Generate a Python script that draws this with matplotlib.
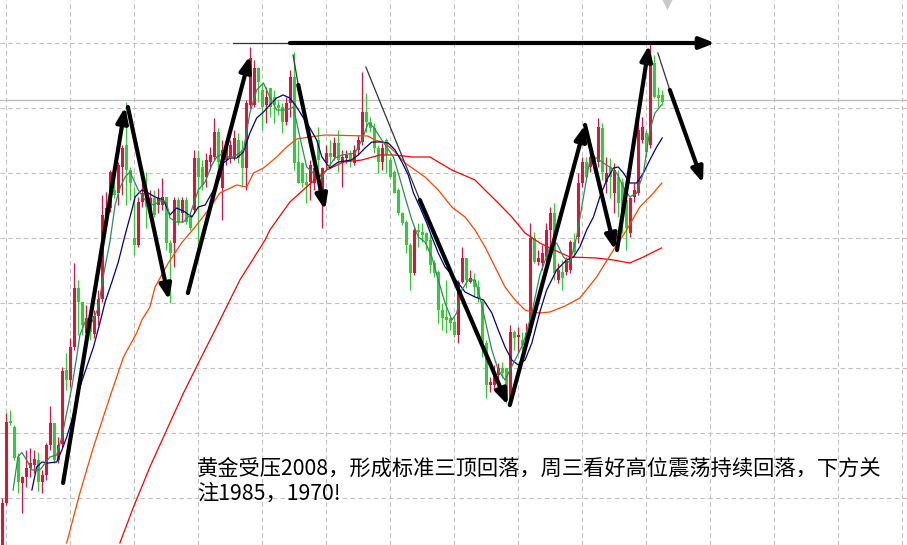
import matplotlib.pyplot as plt

# 5分钟K线 (开, 高, 低, 收)
opens = [1911.0, 1919.4, 1935.8, 1934.6, 1928.6, 1923.4, 1924.6, 1926.4, 1927.0, 1928.0,
         1923.6, 1925.0, 1931.0, 1935.4, 1928.0, 1931.2, 1946.0, 1944.0, 1950.6, 1962.4,
         1959.6, 1953.4, 1956.4, 1953.2, 1956.8, 1960.2, 1976.4, 1978.4, 1982.0, 1981.4,
         1986.6, 1991.0, 1986.0, 1972.4, 1971.0, 1979.6, 1980.0, 1977.4, 1980.4, 1979.0,
         1979.0, 1980.6, 1971.4, 1971.4, 1980.0, 1977.4, 1980.0, 1977.0, 1978.0, 1988.4,
         1986.6, 1984.6, 1987.6, 1988.6, 1993.6, 1982.4, 1988.0, 1988.4, 1988.6, 1992.0,
         1990.0, 1986.4, 1999.0, 1999.0, 2006.4, 2002.0, 1999.0, 2002.4, 2000.6, 1999.0,
         1998.6, 1995.6, 1999.4, 2004.6, 1987.6, 1987.4, 1983.6, 1983.6, 1983.4, 1992.0,
         1982.0, 1987.4, 1989.4, 1988.6, 1991.4, 1987.4, 1988.4, 1989.4, 1987.4, 1990.0,
         1991.6, 1997.6, 1995.6, 1994.4, 1990.4, 1987.6, 1992.0, 1988.0, 1985.6, 1982.0,
         1977.4, 1975.6, 1971.0, 1965.4, 1974.0, 1973.6, 1973.4, 1972.0, 1967.4, 1965.6,
         1958.0, 1956.6, 1956.4, 1955.6, 1953.0, 1963.6, 1968.4, 1963.6, 1964.0, 1962.6,
         1959.6, 1951.4, 1943.0, 1943.0, 1945.0, 1946.4, 1946.4, 1940.0, 1953.6, 1952.6,
         1952.0, 1951.6, 1953.4, 1972.4, 1967.6, 1967.4, 1968.6, 1974.0, 1977.4, 1964.0,
         1965.6, 1965.6, 1966.0, 1971.6, 1972.6, 1983.4, 1987.6, 1986.6, 1988.6, 1987.6,
         1994.4, 1983.6, 1986.6, 1981.4, 1984.6, 1983.6, 1980.0, 1973.4, 1980.6, 1981.4,
         1992.0, 1993.4, 1991.0, 2007.4, 2001.0, 2001.0]
highs = [1920.4, 1937.4, 1938.0, 1935.0, 1929.4, 1924.8, 1930.0, 1930.4, 1930.0, 1929.6,
         1926.0, 1931.4, 1938.8, 1935.4, 1932.6, 1946.6, 1949.4, 1952.4, 1967.4, 1964.0,
         1959.6, 1959.0, 1958.0, 1958.0, 1962.0, 1981.0, 1981.6, 1986.0, 1984.4, 1987.6,
         1991.0, 1999.6, 1986.6, 1982.6, 1980.6, 1985.4, 1985.6, 1982.0, 1982.0, 1982.4,
         1984.4, 1980.6, 1972.0, 1980.6, 1980.6, 1980.6, 1980.6, 1977.4, 1990.0, 1990.0,
         1988.0, 1989.4, 1990.6, 1996.4, 1994.4, 1992.0, 1992.0, 1992.0, 1994.0, 1993.4,
         1992.0, 2000.0, 2010.6, 2008.0, 2006.6, 2003.4, 2002.6, 2002.4, 2002.0, 2000.0,
         1999.4, 2000.6, 2006.0, 2009.6, 1992.0, 1987.6, 1985.4, 1988.0, 1987.6, 1994.6,
         1986.6, 1991.0, 1992.0, 1992.6, 1994.0, 1990.0, 1990.0, 1990.0, 1991.0, 1993.0,
         2005.6, 2001.4, 1996.6, 1995.4, 1991.0, 1991.4, 1992.4, 1988.6, 1986.0, 1982.4,
         1977.6, 1976.0, 1971.4, 1974.4, 1975.4, 1975.4, 1973.6, 1973.0, 1968.0, 1966.0,
         1959.4, 1964.0, 1956.6, 1956.6, 1964.0, 1970.6, 1968.4, 1966.0, 1965.4, 1964.0,
         1960.0, 1952.0, 1944.6, 1947.0, 1947.4, 1947.6, 1946.4, 1955.0, 1954.0, 1954.6,
         1953.6, 1955.4, 1975.4, 1973.6, 1970.0, 1971.0, 1975.4, 1978.6, 1979.4, 1967.4,
         1968.0, 1968.6, 1972.0, 1973.4, 1985.4, 1988.6, 1988.6, 1990.4, 1989.0, 1996.4,
         1995.4, 1988.6, 1988.4, 1987.4, 1986.0, 1984.4, 1981.4, 1980.6, 1983.4, 1996.6,
         1996.6, 1994.0, 2011.4, 2009.0, 2002.6, 2002.0]
lows = [1910.4, 1919.0, 1935.0, 1928.0, 1921.4, 1917.4, 1922.6, 1924.6, 1925.4, 1921.8,
        1921.4, 1924.0, 1930.0, 1927.4, 1927.4, 1930.6, 1942.0, 1942.6, 1950.0, 1953.0,
        1953.0, 1953.0, 1952.0, 1952.4, 1955.0, 1959.6, 1975.6, 1977.6, 1980.4, 1979.0,
        1981.0, 1979.0, 1980.0, 1969.0, 1970.6, 1978.6, 1974.4, 1976.4, 1976.6, 1977.4,
        1978.0, 1970.0, 1959.4, 1966.6, 1975.0, 1975.6, 1975.2, 1974.0, 1977.4, 1968.0,
        1982.0, 1982.6, 1986.0, 1988.0, 1986.6, 1976.0, 1987.0, 1987.4, 1988.0, 1987.4,
        1982.6, 1982.0, 1998.4, 1998.6, 1999.6, 1994.0, 1995.4, 1996.6, 1995.4, 1997.0,
        1993.4, 1995.0, 1996.6, 1986.0, 1983.4, 1982.6, 1979.4, 1980.0, 1982.0, 1981.4,
        1974.4, 1986.0, 1986.6, 1988.0, 1985.6, 1982.6, 1987.4, 1986.6, 1987.0, 1989.0,
        1991.0, 1993.6, 1993.6, 1989.4, 1985.4, 1986.0, 1985.4, 1984.4, 1981.4, 1977.0,
        1975.0, 1969.4, 1962.0, 1965.0, 1970.6, 1971.6, 1970.0, 1965.4, 1964.6, 1955.4,
        1954.0, 1953.4, 1954.0, 1952.6, 1951.4, 1963.4, 1962.4, 1963.4, 1960.6, 1959.6,
        1948.6, 1940.4, 1941.6, 1942.0, 1941.6, 1944.4, 1939.4, 1939.0, 1950.0, 1949.4,
        1949.6, 1951.4, 1953.0, 1967.4, 1967.0, 1966.0, 1967.4, 1970.6, 1964.0, 1963.4,
        1962.0, 1965.0, 1965.4, 1968.6, 1971.4, 1982.6, 1984.4, 1985.6, 1985.6, 1986.6,
        1984.0, 1981.4, 1980.4, 1977.4, 1976.6, 1973.4, 1970.0, 1972.6, 1979.6, 1981.0,
        1991.4, 1988.6, 1990.4, 2000.4, 1998.6, 1999.0]
closes = [1919.4, 1935.6, 1935.4, 1928.4, 1923.6, 1924.6, 1926.4, 1927.4, 1928.2, 1923.6,
          1925.0, 1931.0, 1935.4, 1928.0, 1931.0, 1945.8, 1944.0, 1950.6, 1962.4, 1959.6,
          1955.0, 1956.4, 1953.6, 1956.8, 1960.2, 1977.0, 1978.4, 1985.6, 1981.0, 1987.0,
          1990.4, 1986.0, 1983.4, 1971.0, 1979.6, 1981.4, 1978.6, 1980.4, 1977.0, 1980.4,
          1980.6, 1971.4, 1969.4, 1980.0, 1975.6, 1980.0, 1975.6, 1974.4, 1988.4, 1984.6,
          1983.0, 1988.0, 1989.0, 1993.6, 1987.6, 1990.0, 1991.0, 1991.0, 1992.4, 1988.4,
          1986.4, 1999.4, 2008.4, 2006.4, 2003.6, 1998.6, 2000.6, 1998.6, 1999.0, 1998.4,
          1995.6, 1999.4, 2004.6, 1987.4, 1983.4, 1983.4, 1983.0, 1987.0, 1986.4, 1988.0,
          1986.4, 1989.4, 1988.6, 1991.4, 1988.0, 1988.6, 1989.0, 1988.0, 1990.0, 1992.0,
          1997.6, 1995.6, 1994.4, 1990.4, 1987.6, 1990.4, 1989.0, 1984.6, 1981.4, 1977.4,
          1975.4, 1971.0, 1965.4, 1974.0, 1973.6, 1973.0, 1971.8, 1967.0, 1965.4, 1958.0,
          1956.4, 1956.0, 1955.4, 1953.0, 1963.6, 1968.4, 1964.0, 1964.4, 1962.6, 1960.4,
          1951.4, 1943.0, 1943.6, 1945.6, 1946.4, 1945.4, 1940.0, 1953.6, 1952.4, 1953.0,
          1951.0, 1953.4, 1972.4, 1967.6, 1968.4, 1969.4, 1974.0, 1977.4, 1965.4, 1966.0,
          1964.4, 1968.0, 1971.6, 1969.6, 1983.4, 1987.6, 1984.6, 1988.6, 1986.6, 1994.6,
          1985.6, 1985.4, 1984.6, 1986.0, 1979.4, 1977.6, 1974.4, 1980.4, 1982.0, 1994.0,
          1994.6, 1989.6, 2008.0, 2000.6, 2000.4, 1999.6]

# 均线 (从图上读的折点)
ma_fast_x = [2.7, 3.9, 4.9, 6.1, 7.4, 9.4, 11.9, 13.6, 14.9, 16.1, 17.4, 18.6, 19.4, 21.1, 22.4,
             24.0, 25.3, 26.9, 28.2, 29.4, 30.7, 31.9, 33.2, 34.0, 35.7, 37.8, 39.9, 41.1, 41.9,
             43.6, 45.3, 46.9, 49.0, 50.7, 52.4, 53.6, 55.3, 56.9, 58.6, 60.3, 61.9, 63.6, 65.3,
             66.9, 68.6, 71.1, 72.8, 74.0, 76.1, 77.8, 79.9, 81.5, 83.2, 84.9, 88.2, 89.9, 91.5,
             92.8, 94.4, 96.1, 97.8, 99.0, 100.7, 102.4, 104.0, 105.7, 107.4, 109.0, 110.7, 112.4,
             113.6, 114.9, 116.5, 118.2, 119.4, 120.7, 122.4, 124.0, 125.7, 126.9, 128.6, 130.3,
             132.4, 134.4, 136.9, 138.6, 140.3, 141.9, 143.6, 145.3, 146.9, 148.6, 150.3, 151.9,
             153.6, 155.3, 156.9, 158.6, 160.3, 161.9, 163.2, 164.8]
ma_fast_y = [1922.0, 1928.6, 1929.5, 1928.0, 1926.0, 1926.0, 1928.6, 1929.0, 1932.6, 1937.4,
             1942.6, 1948.6, 1953.0, 1956.4, 1955.6, 1958.4, 1965.0, 1971.6, 1979.0, 1982.4,
             1984.6, 1985.6, 1983.4, 1982.0, 1980.0, 1979.0, 1980.0, 1979.4, 1976.4, 1975.6,
             1975.6, 1977.0, 1982.0, 1983.6, 1987.0, 1988.6, 1989.4, 1988.4, 1989.0, 1990.0,
             1997.4, 2002.0, 2003.4, 2000.6, 1998.0, 1998.0, 1998.6, 1994.0, 1986.6, 1985.4,
             1984.6, 1986.6, 1988.4, 1989.0, 1989.4, 1992.0, 1995.4, 1994.6, 1992.6, 1990.6,
             1988.6, 1985.4, 1980.6, 1976.0, 1972.6, 1971.6, 1968.6, 1964.0, 1959.4, 1956.0,
             1957.4, 1962.0, 1964.0, 1964.0, 1960.6, 1956.0, 1950.0, 1946.0, 1944.0, 1946.0,
             1948.6, 1951.4, 1957.4, 1965.0, 1970.6, 1971.4, 1968.6, 1967.4, 1972.6, 1980.6,
             1988.0, 1988.4, 1987.4, 1986.6, 1985.4, 1982.6, 1980.6, 1981.4, 1985.4, 1994.0,
             1997.4, 1999.0]

ma_mid_x = [7.4, 8.6, 9.9, 11.5, 13.6, 14.9, 16.1, 17.4, 19.4, 21.1, 22.8, 24.4, 25.7, 27.4, 29.0,
            30.7, 32.4, 33.2, 34.9, 36.5, 38.2, 40.3, 41.9, 43.6, 45.7, 47.4, 49.0, 50.7, 52.4,
            54.4, 55.3, 56.9, 58.6, 60.3, 61.9, 63.6, 65.3, 66.9, 68.6, 70.2, 71.9, 73.6, 75.3,
            76.9, 78.6, 79.9, 81.9, 84.0, 87.3, 89.0, 90.7, 92.4, 94.9, 96.5, 98.2, 99.9, 101.5,
            102.8, 104.4, 106.1, 107.4, 109.0, 110.7, 112.4, 114.0, 115.7, 118.2, 120.3, 122.4,
            124.0, 125.7, 127.4, 129.0, 130.7, 132.4, 134.4, 136.1, 138.6, 141.1, 142.8, 144.4,
            146.1, 147.8, 149.4, 151.1, 152.8, 154.0, 155.3, 156.9, 158.6, 160.3, 161.9, 163.6, 165.0]
ma_mid_y = [1922.0, 1926.6, 1927.6, 1927.4, 1927.6, 1930.0, 1932.6, 1936.0, 1942.6, 1946.6,
            1950.6, 1955.4, 1959.6, 1963.6, 1967.6, 1973.0, 1978.0, 1980.6, 1982.0, 1981.4,
            1980.6, 1980.0, 1977.0, 1978.4, 1977.6, 1976.6, 1978.6, 1979.0, 1981.4, 1984.4,
            1987.4, 1988.4, 1988.4, 1989.6, 1993.4, 1996.4, 1997.6, 1999.0, 2000.4, 2001.0,
            2000.4, 1998.6, 1996.4, 1994.4, 1992.0, 1988.6, 1986.4, 1987.6, 1988.0, 1989.0,
            1990.4, 1991.6, 1991.6, 1991.4, 1990.0, 1987.6, 1985.0, 1981.4, 1978.6, 1975.4,
            1972.6, 1969.4, 1966.6, 1965.0, 1963.4, 1961.6, 1960.6, 1960.0, 1957.4, 1954.0,
            1950.6, 1948.0, 1947.0, 1948.0, 1951.4, 1957.6, 1962.0, 1966.0, 1968.0, 1968.6,
            1970.6, 1974.0, 1976.6, 1980.6, 1984.0, 1986.4, 1986.6, 1985.4, 1983.4, 1983.4,
            1985.4, 1988.0, 1990.6, 1992.4]

ma_slow_x = [16.1, 19.4, 22.8, 26.9, 30.3, 33.6, 34.9, 36.9, 38.2, 41.5, 44.8, 48.2, 51.5, 54.4,
             58.6, 61.1, 62.8, 65.3, 68.6, 71.1, 73.6, 76.9, 80.7, 91.4, 93.2, 95.7, 98.2, 100.7,
             103.2, 105.7, 109.0, 112.4, 115.7, 118.2, 120.7, 123.2, 125.7, 128.2, 130.7, 132.4,
             134.4, 136.9, 140.7, 144.4, 148.6, 152.8, 156.1, 159.4, 162.8, 164.9]
ma_slow_y = [1911.4, 1921.4, 1930.6, 1940.6, 1948.6, 1953.4, 1956.0, 1958.6, 1962.6, 1967.4,
             1971.4, 1974.6, 1978.0, 1981.4, 1983.0, 1982.6, 1985.4, 1986.4, 1988.6, 1990.6,
             1992.2, 1992.6, 1993.0, 1992.8, 1992.0, 1991.4, 1989.6, 1987.4, 1986.0, 1984.6,
             1982.0, 1978.6, 1976.6, 1974.0, 1970.6, 1966.6, 1962.6, 1960.0, 1958.0, 1957.6,
             1957.4, 1957.6, 1958.8, 1960.4, 1964.6, 1970.0, 1974.0, 1978.6, 1981.4, 1983.4]

ma_long_x = [29.4, 32.8, 36.9, 41.1, 45.3, 49.4, 53.2, 59.4, 65.7, 66.9, 71.9, 76.9, 81.1, 85.3,
             89.9, 94.4, 98.2, 102.4, 106.9, 112.4, 118.2, 120.7, 124.0, 127.4, 130.7, 134.4,
             136.9, 141.9, 148.6, 152.8, 156.9, 160.3, 164.8]
ma_long_y = [1911.4, 1918.6, 1926.6, 1934.0, 1941.4, 1948.0, 1954.0, 1964.0, 1972.0, 1974.0,
             1979.6, 1983.2, 1986.0, 1987.6, 1988.0, 1989.0, 1989.0, 1988.6, 1988.6, 1986.0,
             1984.0, 1982.0, 1979.4, 1976.6, 1973.4, 1971.4, 1970.4, 1968.6, 1968.4, 1968.0,
             1967.4, 1968.6, 1970.4]

# 手画的箭头 (起点, 终点)
arrows = [((15.2, 1923.4), (30.7, 1998.6)),
          ((31.4, 1998.6), (41.7, 1960.0)),
          ((46.4, 1961.4), (61.9, 2008.8)),
          ((74.0, 2003.0), (80.7, 1978.0)),
          ((104.4, 1980.0), (126.4, 1939.0)),
          ((126.9, 1939.0), (145.7, 1995.0)),
          ((145.7, 1995.0), (153.2, 1970.0)),
          ((153.7, 1970.0), (161.7, 2011.0)),
          ((166.9, 2002.0), (175.2, 1983.4)),
          ((71.9, 2011.4), (178.2, 2011.4))]
# 箭头前面的细线
thin_lines = [((72.7, 2009.0), (74.0, 2003.0)),
              ((90.9, 2006.6), (104.4, 1980.0)),
              ((163.9, 2009.4), (166.9, 2002.0)),
              ((57.7, 2011.4), (71.9, 2011.4))]

last_price = 2000.0
note1 = "黄金受压2008，形成标准三顶回落，周三看好高位震荡持续回落，下方关"
note2 = "注1985，1970!"

fig = plt.figure(figsize=(9.07, 5.45), dpi=100)
ax = fig.add_axes([0, 0, 1, 1])
for s in ax.spines.values():
    s.set_visible(False)
ax.set_xticks([1 + 16 * k for k in range(15)])
ax.set_yticks([2011.5 - 13 * k for k in range(8)])
ax.tick_params(length=0, labelbottom=False, labelleft=False)
ax.grid(True, color="#c0c0c0", ls=(0, (4, 3)), lw=0.8)
ax.set_axisbelow(True)

ax.axhline(last_price, color="#c0c0c0", lw=1.0, zorder=1)

# K线
xs = list(range(len(closes)))
cols = ["#dc143c" if c >= o else "#32cd32" for o, c in zip(opens, closes)]
ax.vlines(xs, lows, highs, colors=cols, lw=0.9, zorder=2)
bottoms = [min(o, c) for o, c in zip(opens, closes)]
heights = [max(abs(c - o), 0.25) for o, c in zip(opens, closes)]
ax.bar(xs, heights, bottom=bottoms, width=0.75, color=cols, lw=0, zorder=3)

# 均线
ax.plot(ma_long_x, ma_long_y, color="#ff0000", lw=0.9, zorder=4)
ax.plot(ma_slow_x, ma_slow_y, color="#ff4500", lw=0.9, zorder=4)
ax.plot(ma_mid_x, ma_mid_y, color="#000080", lw=0.9, zorder=4)
ax.plot(ma_fast_x, ma_fast_y, color="#2e8b57", lw=0.9, zorder=4)

# 顶部的灰色小三角
ax.scatter([166.3], [2019.6], marker="v", s=120, color="#c8c8c8", lw=0, zorder=5)

for (x0, y0), (x1, y1) in thin_lines:
    ax.plot([x0, x1], [y0, y1], color="#333333", lw=0.9, zorder=6)
for start, tip in arrows:
    ax.annotate("", xy=tip, xytext=start,
                arrowprops=dict(arrowstyle="-|>,head_length=0.9,head_width=0.35",
                                color="black", lw=3.0, shrinkA=0, shrinkB=0),
                zorder=7)

ax.set_xlim(-0.575, 226.2)
ax.set_ylim(1911.0, 2020.0)

fig.text(197 / 907, 1 - 474.5 / 545, note1, fontsize=15.3, color="black",
         family=["Noto Sans CJK SC", "DejaVu Sans"], va="baseline", ha="left")
fig.text(197 / 907, 1 - 500 / 545, note2, fontsize=15.3, color="black",
         family=["Noto Sans CJK SC", "DejaVu Sans"], va="baseline", ha="left")

fig.savefig("out.png", dpi=100)
